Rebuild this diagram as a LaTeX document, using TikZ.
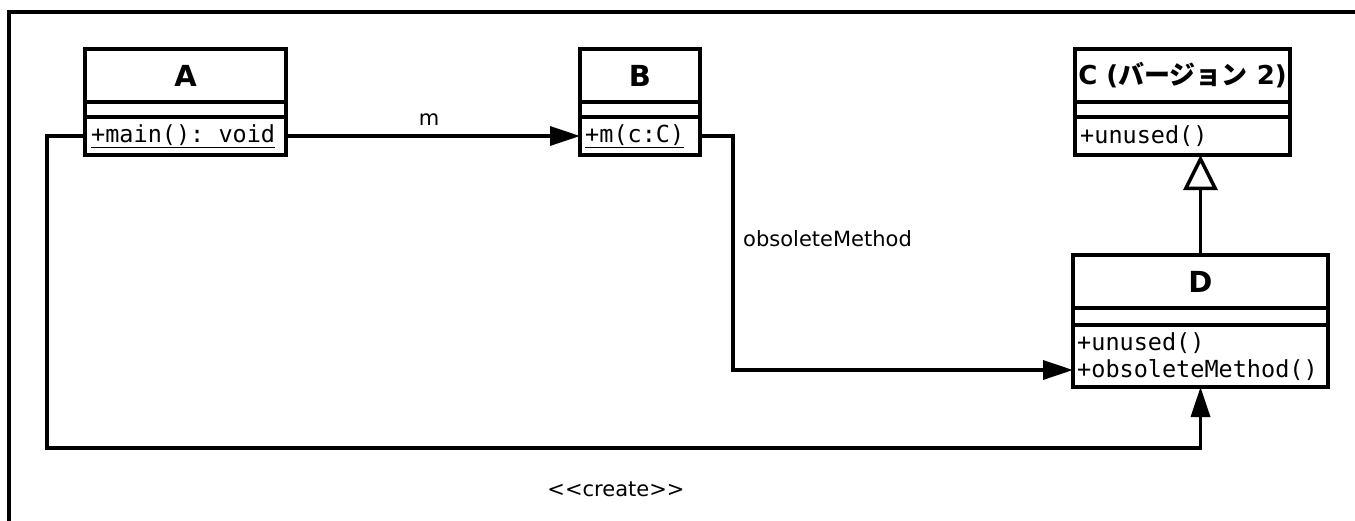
\documentclass[tikz,border=0pt]{standalone}
\usepackage{fontspec}
\setmainfont{DejaVu Sans}
\newfontfamily\umlmono{DejaVu Sans Mono}
\newfontfamily\umljp{Noto Sans CJK JP}
\usetikzlibrary{arrows.meta,calc}

\begin{document}
\begin{tikzpicture}[x=1pt,y=-1pt,
  part/.style={draw, line width=3.5pt, inner sep=0pt, outer sep=0pt, fill=white},
  ctitle/.style={font=\fontsize{29}{33}\selectfont\bfseries},
  op/.style={inner sep=0pt, anchor=west, font=\fontsize{23.5}{27}\selectfont\umlmono},
  lbl/.style={inner sep=0pt, font=\fontsize{21}{25}\selectfont},
  link/.style={line width=3.5pt, -{Triangle[length=30pt,width=19pt]}},
  inherit/.style={line width=3.5pt, -{Triangle[open,length=35pt,width=34pt,fill=white]}},
]
\useasboundingbox (0,0) rectangle (1355,520);
\clip (0,0) rectangle (1355,520);

% diagram frame
\draw[line width=4pt] (9,560) -- (9,11.5) -- (1380,11.5);

% class A
\node[part, ctitle, minimum width=201pt, minimum height=53pt] (At) at (185.5,75.5) {A};
\node[part, minimum width=201pt, minimum height=15pt] (Ae) at (185.5,109.5) {};
\node[part, minimum width=201pt, minimum height=38pt] (Am) at (185.5,136) {};
\node[op] (Aop) at ($(Am.west)+(6,0)$) {\underline{+main():\ void}};

% class B
\node[part, ctitle, minimum width=120pt, minimum height=53pt] (Bt) at (640,75.5) {B};
\node[part, minimum width=120pt, minimum height=15pt] (Be) at (640,109.5) {};
\node[part, minimum width=120pt, minimum height=38pt] (Bm) at (640,136) {};
\node[op] (Bop) at ($(Bm.west)+(5,0)$) {\underline{+m(c:C)}};

% class C
\node[part, ctitle, font=\fontsize{26}{30}\selectfont\bfseries, minimum width=215pt, minimum height=53pt] (Ct) at (1182.5,75.5) {C ({\umljp\bfseries バージョン} 2)};
\node[part, minimum width=215pt, minimum height=15pt] (Ce) at (1182.5,109.5) {};
\node[part, minimum width=215pt, minimum height=38pt] (Cm) at (1182.5,136) {};
\node[op] (Cop) at ($(Cm.west)+(5,0)$) {+unused()};

% class D
\node[part, ctitle, minimum width=255pt, minimum height=53pt] (Dt) at (1200.5,281.5) {D};
\node[part, minimum width=255pt, minimum height=17pt] (De) at (1200.5,316.5) {};
\node[part, minimum width=255pt, minimum height=62pt] (Dm) at (1200.5,356) {};
\node[op] (Dop1) at (1077,343) {+unused()};
\node[op] (Dop2) at (1077,370) {+obsoleteMethod()};

% connectors
\draw[link] (Am.east) -- (Bm.west);
\node[lbl, anchor=base] (lm) at (429,125) {m};

\draw[link] (Bm.east) -- ++(33,0) |- (Dm.west |- Dop2.west);
\node[lbl, anchor=base west] (lobs) at (743,246) {obsoleteMethod};

\draw[link] (Am.west) -- ++(-38,0) -- ++(0,312) -| (Dm.south);
\node[lbl, anchor=base] (lcreate) at (616,496) {<{}<create>{}>};

\draw[inherit] (Dt.north) -- (Dt.north |- Cm.south);
\end{tikzpicture}
\end{document}
